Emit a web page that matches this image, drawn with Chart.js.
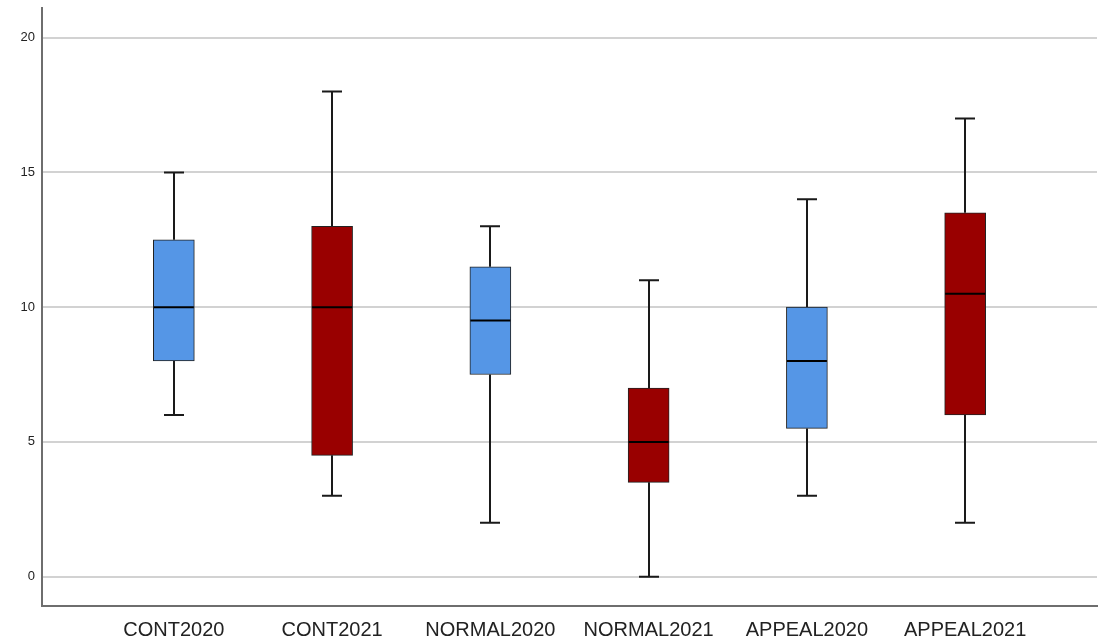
<!DOCTYPE html>
<html>
<head>
<meta charset="utf-8">
<script src="https://cdn.jsdelivr.net/npm/chart.js@4/dist/chart.umd.min.js"></script>
<style>
  html, body { margin: 0; padding: 0; background: #fff; }
  #wrap { width: 1101px; height: 643px; }
</style>
</head>
<body>
<div id="wrap"><canvas id="box"></canvas></div>
<script>
// 상자그림 — 집단별 분포 (최소, Q1, 중앙값, Q3, 최대)
const LABELS = ["CONT2020", "CONT2021", "NORMAL2020", "NORMAL2021", "APPEAL2020", "APPEAL2021"];
const MINS = [6, 3, 2, 0, 3, 2];
const Q1S = [8, 4.5, 7.5, 3.5, 5.5, 6];
const MEDIANS = [10, 10, 9.5, 5, 8, 10.5];
const Q3S = [12.5, 13, 11.5, 7, 10, 13.5];
const MAXS = [15, 18, 13, 11, 14, 17];
const Y_TICKS = [0, 5, 10, 15, 20];

const BLUE = "#5596e6";
const RED = "#990000";
const boxColors = LABELS.map((l) => (l.endsWith("2020") ? BLUE : RED));

// 수염과 중앙선은 스케일 좌표로 직접 그림
const whiskerPlugin = {
  id: "whiskers",
  beforeDatasetsDraw(chart) {
    const { ctx, scales: { x, y } } = chart;
    ctx.save();
    ctx.strokeStyle = "#1a1a1a";
    ctx.lineWidth = 2;
    LABELS.forEach((_, i) => {
      const cx = Math.round(x.getPixelForValue(i));
      const pairs = [[MINS[i], Q1S[i]], [MAXS[i], Q3S[i]]];
      pairs.forEach(([end, edge]) => {
        const ye = y.getPixelForValue(end);
        ctx.beginPath();
        ctx.moveTo(cx, ye);
        ctx.lineTo(cx, y.getPixelForValue(edge));
        ctx.moveTo(cx - 10, ye);
        ctx.lineTo(cx + 10, ye);
        ctx.stroke();
      });
    });
    ctx.restore();
  },
  afterDatasetsDraw(chart) {
    const { ctx, scales: { x, y } } = chart;
    ctx.save();
    ctx.strokeStyle = "#000";
    ctx.lineWidth = 2;
    MEDIANS.forEach((m, i) => {
      const cx = x.getPixelForValue(i);
      const ym = y.getPixelForValue(m);
      ctx.beginPath();
      ctx.moveTo(cx - 20, ym);
      ctx.lineTo(cx + 20, ym);
      ctx.stroke();
    });
    ctx.restore();
  },
};

new Chart(document.getElementById("box"), {
  type: "bar",
  data: {
    datasets: [{
      data: LABELS.map((_, i) => ({ x: i, y: [Q1S[i], Q3S[i]] })),
      backgroundColor: boxColors,
      borderColor: "#222",
      borderWidth: 1,
      borderSkipped: false,
      barThickness: 41,
    }],
  },
  options: {
    responsive: true,
    maintainAspectRatio: false,
    animation: false,
    layout: { padding: { top: 8, right: 4, left: 0, bottom: 0 } },
    plugins: { legend: { display: false }, tooltip: { enabled: false } },
    scales: {
      x: {
        type: "linear",
        offset: false,
        min: -0.833,
        max: 5.833,
        afterBuildTicks: (axis) => { axis.ticks = LABELS.map((_, i) => ({ value: i })); },
        afterFit: (s) => { s.height = 37; },
        grid: { display: false },
        border: { display: true, color: "#6e6e6e", width: 2 },
        ticks: {
          callback: (v) => LABELS[v] || "",
          color: "#222",
          font: { family: "Liberation Sans, Arial, sans-serif", size: 20 },
          padding: 4,
          maxRotation: 0,
          autoSkip: false,
        },
      },
      y: {
        min: -1.09,
        max: 21.1,
        afterBuildTicks: (axis) => { axis.ticks = Y_TICKS.map((v) => ({ value: v })); },
        afterFit: (s) => { s.width = 42; s.paddingTop = 0; s.paddingBottom = 0; },
        grid: { color: "#d2d2d2", lineWidth: 2, drawTicks: false },
        border: { display: true, color: "#6e6e6e", width: 2 },
        ticks: {
          color: "#222",
          font: { family: "Liberation Sans, Arial, sans-serif", size: 13 },
          padding: 7,
        },
      },
    },
  },
  plugins: [whiskerPlugin],
});
</script>
</body>
</html>
